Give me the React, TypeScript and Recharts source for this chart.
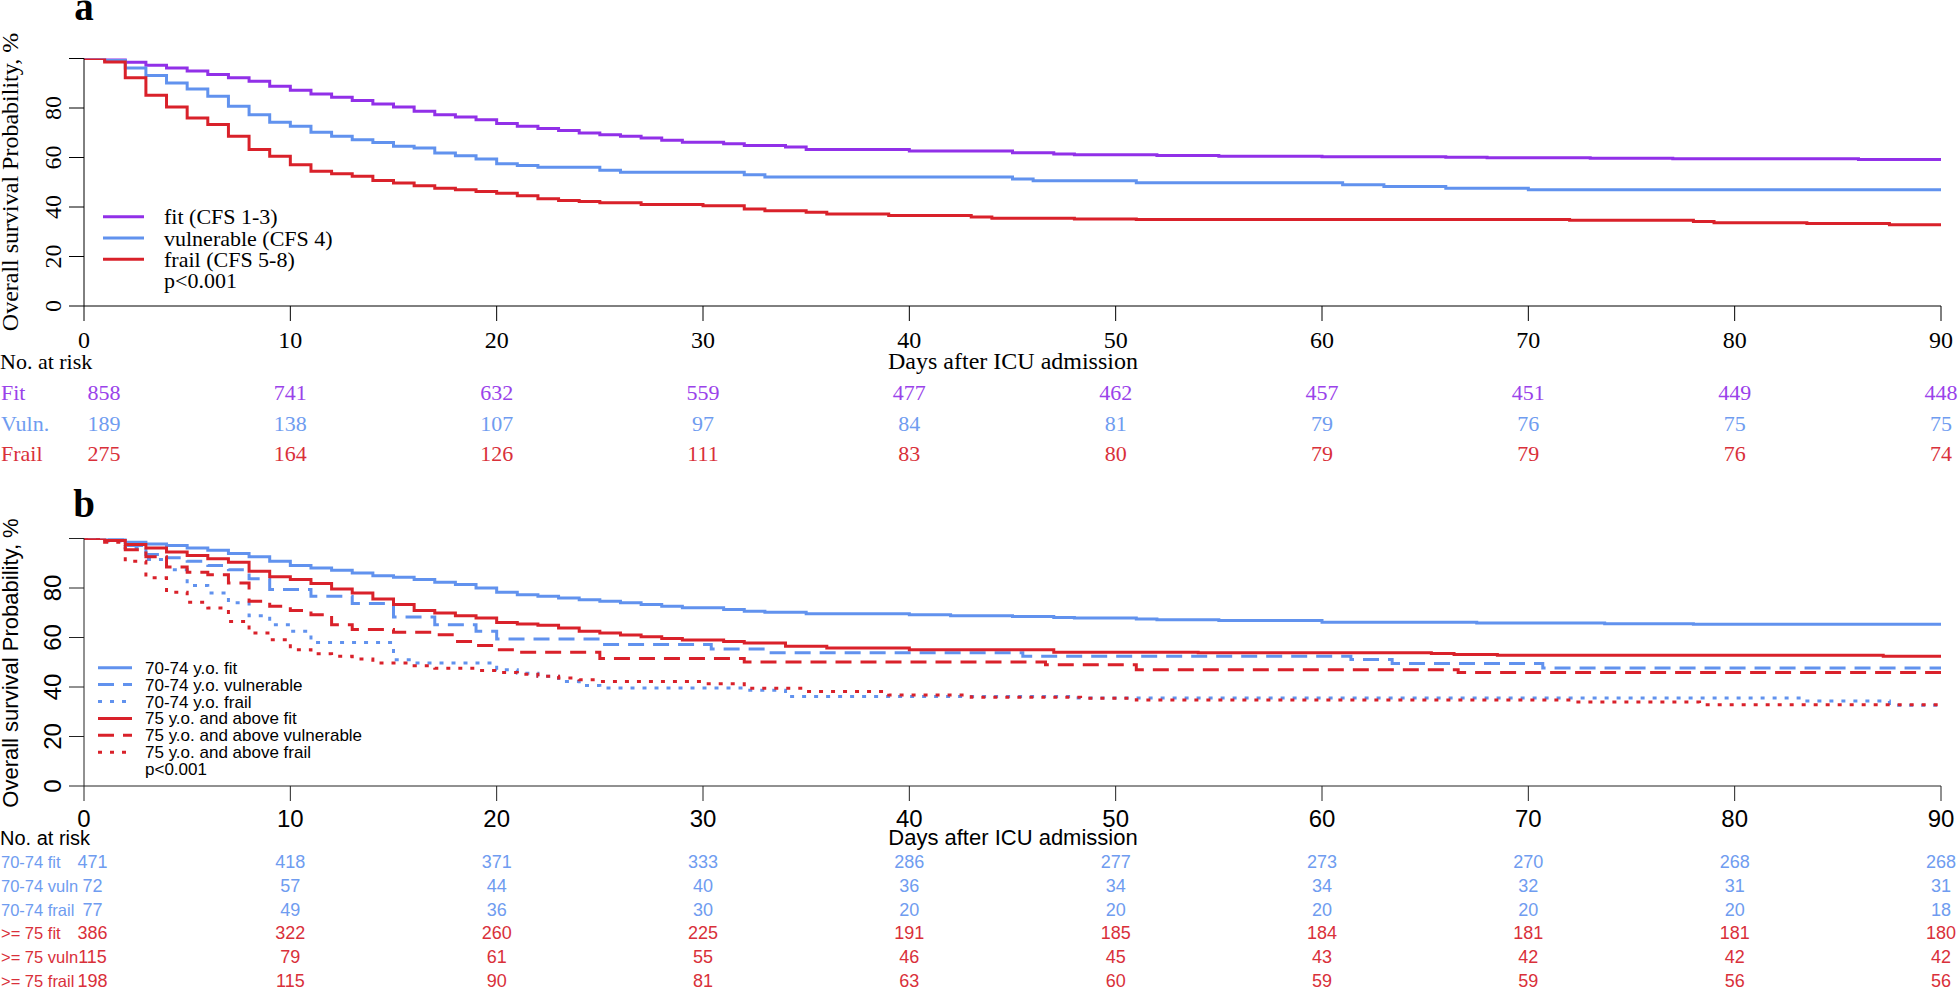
import React from "react";
import { LineChart, Line, XAxis, YAxis } from "recharts";

const SERIF = '"Liberation Serif", "Times New Roman", serif';
const SANS = '"Liberation Sans", Arial, sans-serif';

const PURPLE = "#9130e8";
const BLUE = "#6192ee";
const RED = "#d9212a";

const dayTicks = [0, 10, 20, 30, 40, 50, 60, 70, 80, 90];
const survTicks = [0, 20, 40, 60, 80, 100];

// panel a: Kaplan-Meier steps [day, survival %]
const fitCurve: [number, number][] = [
  [0, 100], [1, 99.6], [2, 98.5], [3, 97.3], [4, 96.2], [5, 94.9], [6, 93.5], [7, 92.2], [8, 90.8],
  [9, 88.8], [10, 87.2], [11, 85.7], [12, 84.3], [13, 83.0], [14, 81.6], [15, 80.4], [16, 78.7],
  [17, 77.3], [18, 76.4], [19, 75.3], [20, 73.7], [21, 72.6], [22, 71.7], [23, 70.9], [24, 69.9],
  [25, 69.2], [26, 68.6], [27, 67.9], [28, 67.0], [29, 66.2], [31, 65.6], [32, 64.8], [34, 64.2],
  [35, 63.2], [40, 62.6], [45, 61.9], [47, 61.4], [48, 61.1], [52, 60.8], [55, 60.5], [60, 60.3],
  [66, 60.1], [68, 59.9], [73, 59.7], [77, 59.5], [86, 59.2], [90, 59.2],
];
const vulnCurve: [number, number][] = [
  [0, 100], [1, 99.2], [2, 96.2], [3, 93.1], [4, 90.1], [5, 87.7], [6, 84.7], [7, 80.7], [8, 77.3],
  [9, 74.2], [10, 72.6], [11, 70.2], [12, 68.6], [13, 67.2], [14, 66.1], [15, 64.5], [16, 63.8],
  [17, 61.8], [18, 60.7], [19, 59.4], [20, 57.5], [21, 56.8], [22, 56.1], [25, 54.8], [26, 54.0],
  [32, 53.0], [33, 52.1], [45, 51.3], [46, 50.6], [51, 49.8], [61, 49.0], [63, 48.3], [66, 47.6],
  [70, 47.0], [90, 47.0],
];
const frailCurve: [number, number][] = [
  [0, 100], [1, 98.6], [2, 92.2], [3, 85.2], [4, 80.4], [5, 76.0], [6, 73.3], [7, 68.6], [8, 63.2],
  [9, 60.5], [10, 57.1], [11, 54.4], [12, 53.4], [13, 52.4], [14, 50.7], [15, 49.7], [16, 48.6],
  [17, 47.6], [18, 47.0], [19, 46.3], [20, 45.6], [21, 44.5], [22, 43.3], [23, 42.6], [24, 42.2],
  [25, 41.7], [27, 41.0], [30, 40.5], [32, 39.2], [33, 38.5], [35, 37.9], [36, 37.2], [39, 36.6],
  [43, 36.0], [44, 35.5], [48, 35.2], [51, 35.0], [72, 34.6], [78, 34.1], [79, 33.6], [83.5, 33.3],
  [87.5, 32.8], [90, 32.8],
];

// panel b
const fit70Curve: [number, number][] = [
  [0, 100], [1, 99.6], [2, 98.5], [3, 97.8], [4, 97.2], [5, 96.2], [6, 95.3], [7, 93.9], [8, 92.6],
  [9, 90.8], [10, 89.1], [11, 88.1], [12, 87.2], [13, 86.1], [14, 85.0], [15, 84.3], [16, 83.4],
  [17, 82.3], [18, 81.4], [19, 80.0], [20, 78.3], [21, 77.3], [22, 76.7], [23, 76.0], [24, 75.3],
  [25, 74.6], [26, 74.0], [27, 73.3], [28, 72.6], [29, 72.0], [31, 71.3], [32, 70.6], [33, 70.2],
  [35, 69.6], [40, 69.2], [42, 68.8], [45, 68.5], [47, 68.1], [48, 67.9], [51, 67.5], [52, 67.2],
  [55, 66.9], [60, 66.2], [67.5, 65.9], [73.7, 65.6], [78, 65.4], [90, 65.4],
];
const vuln70Curve: [number, number][] = [
  [0, 100], [1, 99.6], [2, 97.2], [3, 93.5], [4, 92.2], [5, 90.8], [6, 89.1], [7, 87.4], [8, 83.7],
  [9, 79.4], [11, 76.7], [13, 73.7], [15, 68.3], [17, 65.2], [19, 62.5], [20, 59.4], [25, 57.2],
  [30.4, 55.4], [33, 53.8], [45.5, 52.4], [61.4, 51.1], [63.4, 49.5], [70.7, 47.7], [90, 47.7],
];
const frail70Curve: [number, number][] = [
  [0, 100], [1, 99.0], [2, 96.2], [3, 91.5], [4, 87.4], [5, 81.0], [6, 78.0], [7, 74.0], [8, 68.8],
  [9, 65.2], [10, 62.5], [11, 58.0], [15, 51.0], [16, 49.7], [20, 47.0], [21, 45.6], [22, 44.3],
  [23, 42.2], [24, 40.6], [25, 39.6], [32, 38.7], [34, 36.2], [48, 35.6], [83.5, 34.3], [87.5, 32.6],
  [90, 32.6],
];
const fit75Curve: [number, number][] = [
  [0, 100], [1, 99.2], [2, 97.6], [3, 96.2], [4, 94.5], [5, 93.1], [6, 91.8], [7, 90.4], [8, 86.8],
  [9, 84.5], [10, 83.4], [11, 81.8], [12, 79.6], [13, 78.0], [14, 75.6], [15, 73.3], [16, 70.9],
  [17, 69.9], [18, 68.8], [19, 67.9], [20, 66.1], [21, 65.5], [22, 64.9], [23, 63.8], [24, 62.5],
  [25, 61.8], [26, 61.0], [27, 60.3], [28, 59.6], [29, 59.0], [31, 58.4], [32, 57.8], [34, 56.5],
  [36, 55.8], [40, 55.1], [47, 54.0], [54, 53.8], [65.3, 53.5], [66.4, 53.1], [68.5, 52.8],
  [87.2, 52.4], [90, 52.4],
];
const vuln75Curve: [number, number][] = [
  [0, 100], [1, 99.2], [2, 95.5], [3, 92.6], [4, 88.5], [5, 86.4], [6, 85.4], [7, 82.0], [8, 74.6],
  [9, 72.6], [10, 70.9], [11, 69.2], [12, 65.2], [13, 63.2], [15, 62.1], [17, 61.1], [18, 58.4],
  [19, 56.8], [20, 55.1], [21, 54.0], [25, 51.5], [32, 50.1], [46.6, 49.0], [51, 47.0], [66.6, 45.9],
  [90, 45.9],
];
const frail75Curve: [number, number][] = [
  [0, 100], [1, 98.5], [2, 90.8], [3, 84.1], [4, 78.3], [5, 74.2], [6, 71.9], [7, 66.5], [8, 61.8],
  [9, 59.1], [10, 55.1], [11, 53.4], [12, 52.4], [13, 51.3], [14, 49.7], [16, 48.6], [17, 47.6],
  [19, 46.7], [20, 45.9], [21, 45.2], [22, 44.3], [23, 43.6], [24, 42.9], [25, 42.2], [30, 41.3],
  [32, 39.5], [35, 38.2], [39, 36.8], [43, 35.9], [48.3, 35.5], [51, 34.7], [72.2, 33.9],
  [78.3, 32.8], [90, 32.8],
];

// numbers at risk, one per day tick
const fitRisk = [858, 741, 632, 559, 477, 462, 457, 451, 449, 448];
const vulnRisk = [189, 138, 107, 97, 84, 81, 79, 76, 75, 75];
const frailRisk = [275, 164, 126, 111, 83, 80, 79, 79, 76, 74];

const fit70Risk = [471, 418, 371, 333, 286, 277, 273, 270, 268, 268];
const vuln70Risk = [72, 57, 44, 40, 36, 34, 34, 32, 31, 31];
const frail70Risk = [77, 49, 36, 30, 20, 20, 20, 20, 20, 18];
const fit75Risk = [386, 322, 260, 225, 191, 185, 184, 181, 181, 180];
const vuln75Risk = [115, 79, 61, 55, 46, 45, 43, 42, 42, 42];
const frail75Risk = [198, 115, 90, 81, 63, 60, 59, 59, 56, 56];

const toPoints = (c: [number, number][]) => c.map(([day, surv]) => ({ day, surv }));

const seriesA = [
  { name: "fit (CFS 1-3)", curve: fitCurve, color: PURPLE, dash: undefined },
  { name: "vulnerable (CFS 4)", curve: vulnCurve, color: BLUE, dash: undefined },
  { name: "frail (CFS 5-8)", curve: frailCurve, color: RED, dash: undefined },
];
const seriesB = [
  { name: "70-74 y.o. fit", curve: fit70Curve, color: BLUE, dash: undefined },
  { name: "70-74 y.o. vulnerable", curve: vuln70Curve, color: BLUE, dash: "16 9" },
  { name: "70-74 y.o. frail", curve: frail70Curve, color: BLUE, dash: "4 8" },
  { name: "75 y.o. and above fit", curve: fit75Curve, color: RED, dash: undefined },
  { name: "75 y.o. and above vulnerable", curve: vuln75Curve, color: RED, dash: "16 9" },
  { name: "75 y.o. and above frail", curve: frail75Curve, color: RED, dash: "4 8" },
];

const riskA = [
  { label: "Fit", values: fitRisk, color: "#9a42ea" },
  { label: "Vuln.", values: vulnRisk, color: "#6f9cf0" },
  { label: "Frail", values: frailRisk, color: "#d9303a" },
];
const riskB = [
  { label: "70-74 fit", values: fit70Risk, color: "#6f9cf0" },
  { label: "70-74 vuln", values: vuln70Risk, color: "#6f9cf0" },
  { label: "70-74 frail", values: frail70Risk, color: "#6f9cf0" },
  { label: ">= 75 fit", values: fit75Risk, color: "#d9303a" },
  { label: ">= 75 vuln", values: vuln75Risk, color: "#d9303a" },
  { label: ">= 75 frail", values: frail75Risk, color: "#d9303a" },
];

// plot frame shared by both panels
const PLOT_LEFT = 84;
const PLOT_RIGHT = 1941;
const dayX = (d: number) => PLOT_LEFT + (d / 90) * (PLOT_RIGHT - PLOT_LEFT);

const SurvTick = (props: any) => {
  const { x, y, payload, font } = props;
  if (payload.value === 100) return <g />;
  return (
    <text x={x} y={y} transform={`rotate(-90 ${x} ${y})`} textAnchor="middle" fontFamily={font} fontSize={24} fill="#000">
      {payload.value}
    </text>
  );
};

type PanelProps = {
  series: typeof seriesA;
  font: string;
  top: number;
  tickMargin: number;
  axisColor: string;
};

const KMPanel = ({ series, font, top, tickMargin, axisColor }: PanelProps) => (
  <div style={{ position: "absolute", left: 0, top }}>
    <LineChart width={1960} height={380} margin={{ top: 58.5, right: 1960 - PLOT_RIGHT, bottom: 0, left: 0 }}>
      <XAxis
        xAxisId="main"
        type="number"
        dataKey="day"
        domain={[0, 90]}
        ticks={dayTicks}
        interval={0}
        allowDataOverflow
        height={74}
        tickSize={15}
        tickMargin={tickMargin}
        stroke={axisColor}
        tick={{ fontSize: 24, fontFamily: font, fill: "#000" }}
      />
      <YAxis
        yAxisId="surv"
        type="number"
        domain={[0, 100]}
        ticks={survTicks}
        interval={0}
        allowDataOverflow
        width={PLOT_LEFT}
        tickSize={15}
        tickMargin={8}
        stroke={axisColor}
        tick={(p: any) => <SurvTick {...p} font={font} />}
      />
      {series.map((s) => (
        <Line
          key={s.name}
          xAxisId="main"
          yAxisId="surv"
          data={toPoints(s.curve)}
          dataKey="surv"
          type="stepAfter"
          stroke={s.color}
          strokeWidth={3}
          strokeDasharray={s.dash}
          dot={false}
          activeDot={false}
          isAnimationActive={false}
        />
      ))}
    </LineChart>
  </div>
);

type RiskProps = {
  rows: typeof riskA;
  font: string;
  size: number;
  labelSize: number;
  firstY: number;
  step: number;
  firstShift: number;
};

const RiskTable = ({ rows, font, size, labelSize, firstY, step, firstShift }: RiskProps) => (
  <g>
    {rows.map((row, r) => {
      const y = firstY + r * step;
      return (
        <g key={row.label} fill={row.color} fontFamily={font} fontSize={size}>
          <text x={1} y={y} fontSize={labelSize}>{row.label}</text>
          {row.values.map((v, i) => (
            <text key={i} x={dayX(dayTicks[i]) + (i === 0 ? firstShift : 0)} y={y} textAnchor="middle">
              {v}
            </text>
          ))}
        </g>
      );
    })}
  </g>
);

const Overlay = () => (
  <svg width={1960} height={988} style={{ position: "absolute", left: 0, top: 0, pointerEvents: "none" }}>
    {/* panel a */}
    <text x={84} y={20} textAnchor="middle" fontFamily={SERIF} fontWeight="bold" fontSize={39}>a</text>
    <text x={18} y={182} transform="rotate(-90 18 182)" textAnchor="middle" fontFamily={SERIF} fontSize={24}>
      Overall survival Probability, %
    </text>
    <text x={0} y={369} fontFamily={SERIF} fontSize={22}>No. at risk</text>
    <text x={1013} y={369} textAnchor="middle" fontFamily={SERIF} fontSize={24}>Days after ICU admission</text>
    {seriesA.map((s, i) => {
      const ly = 216.7 + i * 21.3;
      return (
        <g key={s.name}>
          <line x1={103} x2={144} y1={ly} y2={ly} stroke={s.color} strokeWidth={3} />
          <text x={164} y={ly + 7.5} fontFamily={SERIF} fontSize={22}>{s.name}</text>
        </g>
      );
    })}
    <text x={164} y={288} fontFamily={SERIF} fontSize={22}>p&lt;0.001</text>
    <RiskTable rows={riskA} font={SERIF} size={22} labelSize={22} firstY={400} step={30.5} firstShift={20} />

    {/* panel b */}
    <text x={84} y={517} textAnchor="middle" fontFamily={SERIF} fontWeight="bold" fontSize={39}>b</text>
    <text x={18} y={663} transform="rotate(-90 18 663)" textAnchor="middle" fontFamily={SANS} fontSize={22}>
      Overall survival Probability, %
    </text>
    <text x={0} y={845} fontFamily={SANS} fontSize={20}>No. at risk</text>
    <text x={1013} y={845} textAnchor="middle" fontFamily={SANS} fontSize={22}>Days after ICU admission</text>
    {seriesB.map((s, i) => {
      const ly = 667.7 + i * 16.9;
      return (
        <g key={s.name}>
          <line x1={98} x2={132} y1={ly} y2={ly} stroke={s.color} strokeWidth={3} strokeDasharray={s.dash} />
          <text x={145} y={ly + 6} fontFamily={SANS} fontSize={17}>{s.name}</text>
        </g>
      );
    })}
    <text x={145} y={775} fontFamily={SANS} fontSize={17}>p&lt;0.001</text>
    <RiskTable rows={riskB} font={SANS} size={18} labelSize={16.5} firstY={868} step={23.8} firstShift={8.5} />
  </svg>
);

export default function App() {
  return (
    <div style={{ position: "absolute", left: 0, top: 0, width: 1960, height: 988, overflow: "hidden", background: "#fff" }}>
      <KMPanel series={seriesA} font={SERIF} top={-0.5} tickMargin={10} axisColor="#000" />
      <KMPanel series={seriesB} font={SANS} top={480} tickMargin={9} axisColor="#222" />
      <Overlay />
    </div>
  );
}
